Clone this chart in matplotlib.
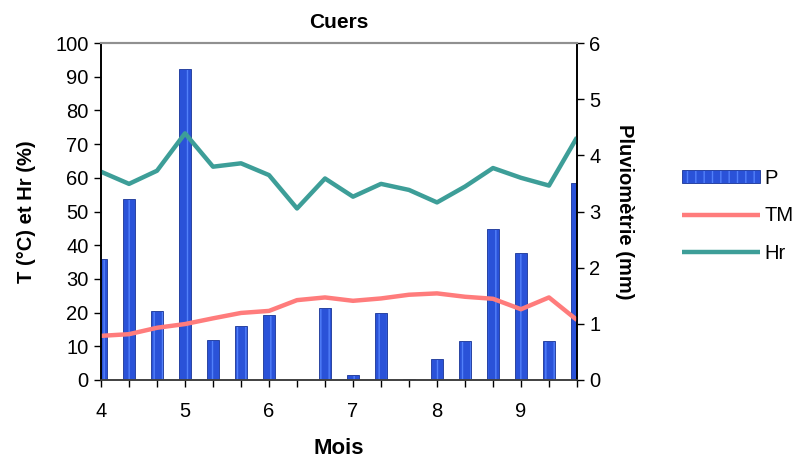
import numpy as np
import matplotlib
matplotlib.use('Agg')
import matplotlib.pyplot as plt

plt.rcParams['font.family'] = ['Liberation Sans', 'DejaVu Sans']

# décades d'avril à septembre (3 par mois)
mois = [4 + i / 3 for i in range(18)]
pluie = [2.15, 3.22, 1.22, 5.54, 0.72, 0.97, 1.15, 0.0, 1.29,
         0.09, 1.19, 0.02, 0.37, 0.69, 2.69, 2.26, 0.69, 3.51]
tm = [13.1, 13.6, 15.5, 16.6, 18.3, 19.9, 20.5, 23.7, 24.5,
      23.5, 24.2, 25.3, 25.7, 24.7, 24.1, 21.0, 24.5, 17.8]
hr = [61.8, 58.2, 62.1, 73.2, 63.3, 64.3, 60.8, 50.9, 59.8,
      54.4, 58.2, 56.4, 52.7, 57.4, 62.9, 60.0, 57.7, 72.0]

fig = plt.figure(figsize=(7.93, 4.67), dpi=100)
ax = fig.add_axes([0.1274, 0.1863, 0.6002, 0.7216])
ax2 = ax.twinx()

# barres de pluie sur l'axe de droite, courbes au-dessus
bars = ax2.bar(mois, pluie, width=0.15, color='#2a52d8', edgecolor='#1a3596',
               linewidth=0.6, hatch='||', label='P')
for b in bars:
    b._hatch_color = (0.32, 0.5, 0.98, 1.0)
l_tm, = ax.plot(mois, tm, color='#ff7c7c', lw=3.2, label='TM', solid_capstyle='butt')
l_hr, = ax.plot(mois, hr, color='#3d9e98', lw=3.2, label='Hr', solid_capstyle='butt')

ax.set_zorder(ax2.get_zorder() + 1)
ax.patch.set_visible(False)

ax.set_xlim(4, mois[-1])
ax.set_ylim(0, 100)
ax2.set_ylim(0, 6)
ax.set_yticks(range(0, 101, 10))
ax2.set_yticks(range(0, 7))
ax.set_xticks(mois)
ax.set_xticklabels([str(int(round(m))) if abs(m - round(m)) < 1e-6 else '' for m in mois])

for a in (ax, ax2):
    a.tick_params(labelsize=14.5, length=5, width=1, color='black', pad=4)
    a.spines['top'].set_color('#909090')
    a.spines['top'].set_linewidth(1.5)
    a.spines['left'].set_linewidth(1.2)
    a.spines['right'].set_linewidth(1.2)
    a.spines['bottom'].set_color('#404040')
    a.spines['bottom'].set_linewidth(1.2)
ax.tick_params(axis='x', pad=11)

ax.set_title('Cuers', fontsize=15, fontweight='bold', pad=11)
ax.set_xlabel('Mois', fontsize=16, fontweight='bold', labelpad=12)
ax.set_ylabel('T (°C) et Hr (%)', fontsize=14.5, fontweight='bold', labelpad=14)
ax2.set_ylabel('Pluviomètrie (mm)', fontsize=14.5, fontweight='bold', rotation=270, labelpad=24)

fig.legend([bars, l_tm, l_hr], ['P', 'TM', 'Hr'], loc='center left',
           bbox_to_anchor=(0.837, 0.538), frameon=False, fontsize=14.5,
           handlelength=3.9, handleheight=0.6, labelspacing=0.93, handletextpad=0.2)

fig.savefig('out.png', dpi=100)
